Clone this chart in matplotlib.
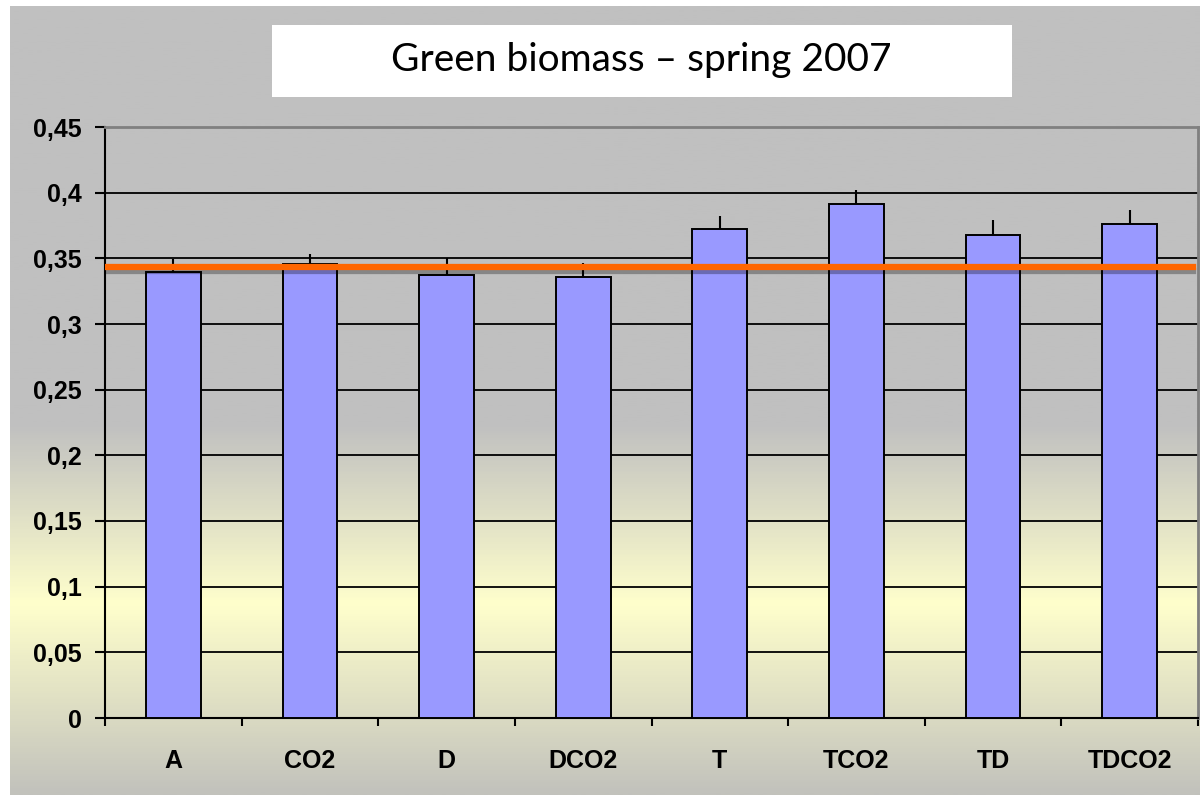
import numpy as np
import matplotlib.pyplot as plt
import matplotlib.patheffects as pe
from matplotlib.colors import LinearSegmentedColormap
from matplotlib.patches import Rectangle

# data
categories = ['A', 'CO2', 'D', 'DCO2', 'T', 'TCO2', 'TD', 'TDCO2']
values = [0.3396, 0.3457, 0.3375, 0.3360, 0.3726, 0.3910, 0.3678, 0.3761]
errors = [0.0099, 0.0076, 0.0128, 0.0104, 0.0099, 0.0110, 0.0114, 0.0107]
reference_level = 0.3434
y_ticks = [0, 0.05, 0.1, 0.15, 0.2, 0.25, 0.3, 0.35, 0.4, 0.45]
y_tick_labels = ['0', '0,05', '0,1', '0,15', '0,2', '0,25', '0,3', '0,35', '0,4', '0,45']
title = 'Green biomass \u2013 spring 2007'

W, H = 1200, 795
fig = plt.figure(figsize=(W / 100, H / 100), dpi=100, facecolor='white')

# chart area background gradient (gray -> light yellow -> gray)
bg = fig.add_axes([10 / W, 0, 1190 / W, 789 / H], zorder=-2)
cmap = LinearSegmentedColormap.from_list(
    'bg', [(0, '#c0c0c0'), (0.53, '#c0c0c0'), (0.76, '#ffffcc'), (1.0, '#c2c2bc')])
grad = np.linspace(0, 1, 400).reshape(-1, 1)
bg.imshow(grad, aspect='auto', cmap=cmap, extent=[0, 1, 0, 1], origin='upper')
bg.set_axis_off()

# title box
fig.patches.append(Rectangle((272 / W, 1 - 97 / H), 740 / W, 72 / H,
                             transform=fig.transFigure, facecolor='white',
                             edgecolor='none', zorder=1))
fig.text(641 / W, 1 - 60 / H, title, ha='center', va='center',
         fontsize=28, family='Lato', zorder=2)

ax = fig.add_axes([105 / W, (H - 718) / H, 1093 / W, 591 / H])
ax.patch.set_alpha(0)

x = np.arange(len(categories))
ax.bar(x, values, width=0.4, color='#9999ff', edgecolor='black', linewidth=1.4, zorder=3)
ax.errorbar(x, values, yerr=[[0] * len(errors), errors], fmt='none',
            ecolor='black', elinewidth=1.5, capsize=0, zorder=2)

ax.axhline(reference_level, xmin=0, xmax=0.995, color='#ff6600', linewidth=4.5, zorder=5,
           path_effects=[pe.SimpleLineShadow(offset=(0, -3), shadow_color='black', alpha=0.3),
                         pe.Normal()])

ax.set_xlim(-0.5, len(categories) - 0.5)
ax.set_ylim(0, 0.45)
ax.set_yticks(y_ticks)
ax.set_yticklabels(y_tick_labels)
ax.yaxis.grid(True, color='black', linewidth=1.3, zorder=1)
ax.set_axisbelow(True)

ax.set_xticks(np.arange(len(categories) + 1) - 0.5)
ax.set_xticklabels([])
ax.set_xticks(x, minor=True)
ax.set_xticklabels(categories, minor=True)
ax.tick_params(axis='x', which='major', length=6, width=1.5, direction='out')
ax.tick_params(axis='x', which='minor', length=0, pad=22)
ax.tick_params(axis='y', length=7, width=1.5, pad=10)

for lbl in ax.get_xticklabels(minor=True) + ax.get_yticklabels():
    lbl.set_fontsize(18)
    lbl.set_fontweight('bold')
    lbl.set_family('Liberation Sans')

ax.spines['left'].set_linewidth(1.5)
ax.spines['bottom'].set_linewidth(1.5)
ax.spines['top'].set_color('#808080')
ax.spines['right'].set_color('#808080')
ax.spines['top'].set_linewidth(2)
ax.spines['right'].set_linewidth(2)

fig.savefig('out.png', dpi=100, facecolor='white')
